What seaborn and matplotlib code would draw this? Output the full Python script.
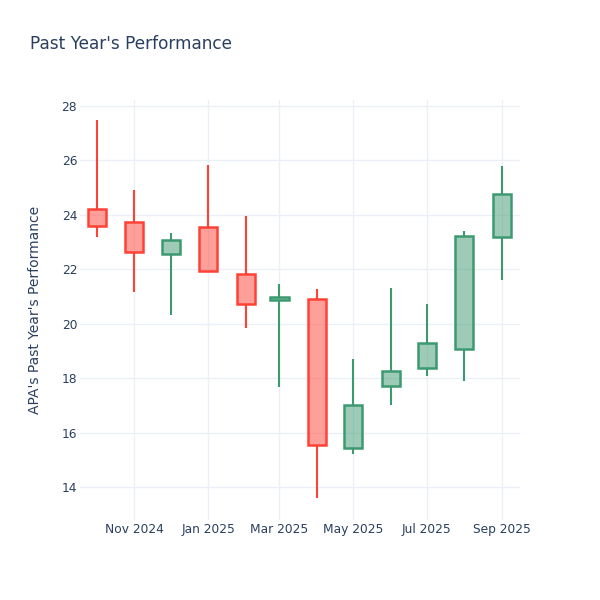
import pandas as pd
import numpy as np
import matplotlib
matplotlib.use("Agg")
import matplotlib.pyplot as plt
import matplotlib.dates as mdates
import seaborn as sns

# Monthly candles
months = ["2024-10-01", "2024-11-01", "2024-12-01", "2025-01-01", "2025-02-01", "2025-03-01",
          "2025-04-01", "2025-05-01", "2025-06-01", "2025-07-01", "2025-08-01", "2025-09-01"]
open_ = [24.22, 23.75, 22.58, 23.55, 21.83, 20.88, 20.92, 15.45, 17.70, 18.37, 19.09, 23.20]
close = [23.60, 22.65, 23.08, 21.93, 20.72, 21.00, 15.55, 17.00, 18.28, 19.28, 23.22, 24.78]
high = [27.47, 24.93, 23.32, 25.82, 23.96, 21.47, 21.28, 18.72, 21.31, 20.71, 23.40, 25.78]
low = [23.17, 21.17, 20.33, 21.90, 19.84, 17.68, 13.60, 15.22, 17.02, 18.07, 17.89, 21.60]
tick_dates = ["2024-11-01", "2025-01-01", "2025-03-01", "2025-05-01", "2025-07-01", "2025-09-01"]

UP = "#3D9970"
DOWN = "#FF4136"
TEXT = "#2a3f5f"
GRID = "#EBF0F8"

df = pd.DataFrame({"date": pd.to_datetime(months), "open": open_, "close": close,
                   "high": high, "low": low})
df["up"] = df["close"] >= df["open"]
df["top"] = df[["open", "close"]].max(axis=1)
df["bot"] = df[["open", "close"]].min(axis=1)

sns.set_theme(style="white")
plt.rcParams["font.family"] = ["DejaVu Sans"]

fig = plt.figure(figsize=(6, 6), dpi=100)
ax = fig.add_axes([80 / 600, 80 / 600, 440 / 600, 420 / 600])

for up, color in [(True, UP), (False, DOWN)]:
    d = df[df["up"] == up]
    ax.vlines(d["date"], d["top"], d["high"], color=color, linewidth=1.5, zorder=3)
    ax.vlines(d["date"], d["low"], d["bot"], color=color, linewidth=1.5, zorder=3)
    ax.bar(d["date"], d["top"] - d["bot"], bottom=d["bot"], width=15,
           color=color, alpha=0.5, linewidth=0, zorder=3)
    ax.bar(d["date"], d["top"] - d["bot"], bottom=d["bot"], width=15,
           fill=False, edgecolor=color, linewidth=1.8, zorder=4)

ax.set_xlim(pd.Timestamp("2024-09-17"), pd.Timestamp("2025-09-16"))
ax.set_ylim(12.79, 28.22)
ax.set_yticks([14, 16, 18, 20, 22, 24, 26, 28])
ax.set_xticks(pd.to_datetime(tick_dates))
ax.xaxis.set_major_formatter(mdates.DateFormatter("%b %Y"))
ax.grid(True, color=GRID, linewidth=1, zorder=0)
ax.set_axisbelow(True)
for s in ax.spines.values():
    s.set_visible(False)
ax.tick_params(axis="both", length=0, labelsize=8.8, labelcolor=TEXT)
ax.tick_params(axis="x", pad=2)
ax.tick_params(axis="y", pad=2)

ax.set_ylabel("APA's Past Year's Performance", fontsize=10, color=TEXT)
ax.yaxis.set_label_coords(-0.086, 0.5)
fig.text(30 / 600, 1 - 44 / 600, "Past Year's Performance", fontsize=12.2, color=TEXT,
         va="center", ha="left")

fig.savefig("out.png", dpi=100)
